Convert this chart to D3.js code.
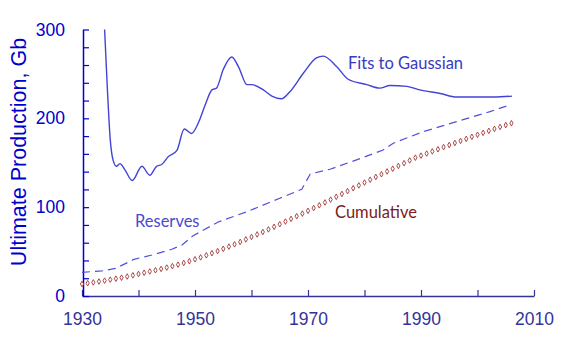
<!DOCTYPE html>
<html>
<head>
<meta charset="utf-8">
<script src="https://cdn.jsdelivr.net/npm/d3@7"></script>
<style>
  body { margin: 0; background: #fff; }
  svg { display: block; }
</style>
</head>
<body>
<svg width="564" height="351"></svg>
<script>
// Fits to Gaussian (solid line)
const fitYears = [1934.0, 1934.5, 1935.0, 1935.5, 1936.1, 1936.7, 1937.6, 1938.9, 1940.6, 1942.0,
  1943.2, 1944.1, 1945.3, 1946.8, 1948.1, 1949.4, 1950.6, 1951.8, 1953.0, 1953.8,
  1955.0, 1956.5, 1957.7, 1959.2, 1960.0, 1962.1, 1963.6, 1965.3, 1966.8, 1969.2,
  1971.5, 1972.7, 1975.1, 1977.1, 1980.4, 1982.7, 1984.5, 1987.5, 1989.8, 1993.4,
  1996.3, 1999.3, 2002.8, 2006.1];
const fitValues = [300, 232, 176, 153, 146, 149, 142, 130, 146, 136,
  146, 148, 157, 164, 188, 183, 195, 215, 232, 234,
  255, 269, 258, 238, 238, 232, 225, 222, 230, 251,
  268, 270, 258, 244, 238, 234, 237, 236, 232, 228,
  224, 224, 224, 225];

// Reserves (dashed line)
const resYears = [1930.0, 1933.5, 1936.0, 1939.2, 1942.4, 1945.9, 1947.7, 1949.6, 1954.1, 1959.2,
  1965.0, 1968.9, 1970.4, 1973.9, 1978.6, 1983.3, 1985.1, 1990.4, 1996.3, 2002.2, 2005.2];
const resValues = [26.7, 28.2, 31.2, 41.3, 46.2, 52.6, 57.4, 67.6, 83.3, 94.9,
  110, 120.2, 137.4, 142.7, 153.2, 164.4, 172, 185, 196.3, 207.5, 214];

// Cumulative (diamond markers), one per year 1930-2006
const cumYears = d3.range(1930, 2007);
const cumValues = [13.5, 14.4, 15.3, 16.3, 17.3, 18.4, 19.5, 20.6, 21.9, 23.3,
  24.8, 26.2, 27.6, 29.0, 30.5, 32.0, 33.6, 35.3, 37.2, 39.2,
  41.3, 43.5, 45.8, 48.2, 50.6, 53.1, 55.6, 58.2, 60.9, 63.7,
  66.5, 69.3, 72.1, 75.0, 77.9, 80.8, 83.8, 86.8, 89.8, 92.8,
  95.9, 99.0, 102.1, 105.3, 108.5, 111.7, 114.9, 118.1, 121.3, 124.5,
  127.7, 130.9, 134.0, 137.1, 140.2, 143.3, 146.4, 149.5, 152.6, 155.7,
  158.0, 160.4, 162.8, 165.2, 167.6, 170.0, 172.3, 174.6, 176.9, 179.2,
  181.5, 183.7, 185.9, 188.1, 190.3, 192.4, 194.5];

const xTicks = d3.range(1930, 2011, 10);
const yTicks = d3.range(0, 301, 20);

const svg = d3.select("svg");

const x = d3.scaleLinear().domain([1930, 2010]).range([82, 534]);
const y = d3.scaleLinear().domain([0, 300]).range([296, 29.5]);

// x axis
const xAxis = svg.append("g")
  .attr("transform", `translate(0,${y(0)})`)
  .call(d3.axisBottom(x).tickValues(xTicks).tickSize(-6).tickSizeOuter(0).tickPadding(17)
    .tickFormat(d => d % 20 === 10 ? d : ""));
xAxis.select(".domain").attr("stroke", "#333399").attr("stroke-width", 1.5);
xAxis.selectAll("line").attr("stroke", "#333399").attr("stroke-width", 1.2);
xAxis.selectAll("text")
  .attr("fill", "#333399")
  .style("font-family", "'Liberation Sans', Arial, sans-serif")
  .style("font-size", "17.5px");

// y axis
const yAxis = svg.append("g")
  .attr("transform", `translate(${x(1930) + 1},0)`)
  .call(d3.axisLeft(y).tickValues(yTicks).tickSize(-6).tickSizeOuter(0).tickPadding(18)
    .tickFormat(d => d % 100 === 0 ? d : ""));
yAxis.select(".domain").attr("stroke", "#0000cc").attr("stroke-width", 1.5);
yAxis.selectAll("line").attr("stroke", "#0000cc").attr("stroke-width", 1.2);
yAxis.selectAll("text")
  .attr("fill", "#0000cc")
  .style("font-family", "'Liberation Sans', Arial, sans-serif")
  .style("font-size", "17.5px");

svg.append("text")
  .attr("transform", `translate(26,152) rotate(-90)`)
  .attr("text-anchor", "middle")
  .attr("fill", "#0000cc")
  .style("font-family", "'Liberation Sans', Arial, sans-serif")
  .style("font-size", "21.5px")
  .text("Ultimate Production, Gb");

// lines
const fitLine = d3.line().x((d, i) => x(fitYears[i])).y(d => y(d)).curve(d3.curveMonotoneX);
svg.append("path")
  .attr("d", fitLine(fitValues))
  .attr("fill", "none")
  .attr("stroke", "#4343d6")
  .attr("stroke-width", 1.4);

const resLine = d3.line().x((d, i) => x(resYears[i])).y(d => y(d));
svg.append("path")
  .attr("d", resLine(resValues))
  .attr("fill", "none")
  .attr("stroke", "#5050dd")
  .attr("stroke-width", 1.2)
  .attr("stroke-dasharray", "8,5");

svg.append("g").selectAll("path")
  .data(cumValues)
  .join("path")
  .attr("transform", (d, i) => `translate(${x(cumYears[i])},${y(d)})`)
  .attr("d", d3.symbol(d3.symbolDiamond, 9))
  .attr("fill", "#fff")
  .attr("stroke", "#a03535")
  .attr("stroke-width", 0.9);

// labels
const labelFont = "Lato, 'Open Sans', sans-serif";
svg.append("text").attr("x", 348).attr("y", 69)
  .attr("fill", "#3a3ac0").style("font-family", labelFont).style("font-size", "16.5px")
  .text("Fits to Gaussian");
svg.append("text").attr("x", 135).attr("y", 227)
  .attr("fill", "#4a4ad0").style("font-family", labelFont).style("font-size", "16.5px")
  .text("Reserves");
svg.append("text").attr("x", 335).attr("y", 218)
  .attr("fill", "#7a1c1c").style("font-family", labelFont).style("font-size", "16.5px")
  .text("Cumulative");
</script>
</body>
</html>
